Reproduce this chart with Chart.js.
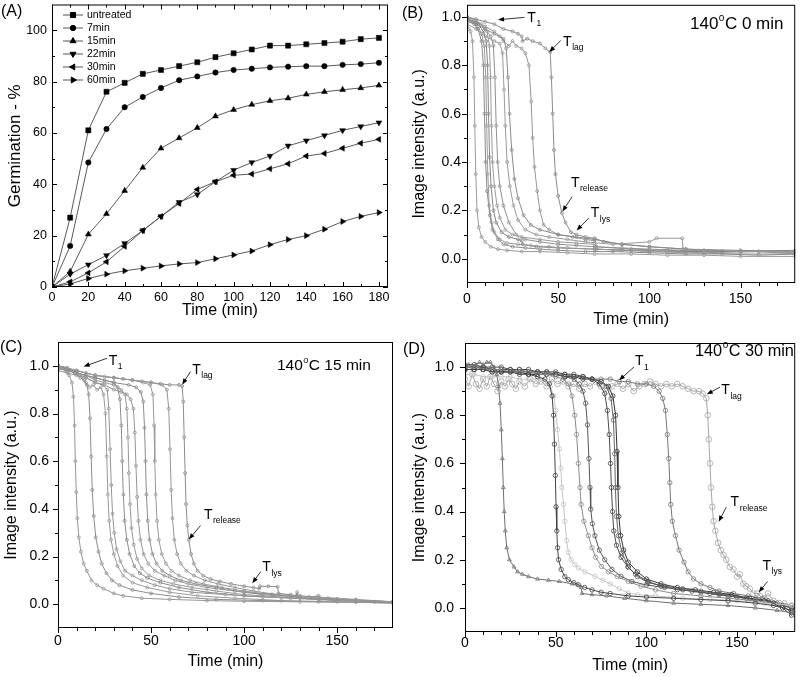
<!DOCTYPE html>
<html>
<head>
<meta charset="utf-8">
<script src="https://cdn.jsdelivr.net/npm/chart.js@4.4.0/dist/chart.umd.min.js"></script>
<style>
  html, body { margin: 0; padding: 0; background: #fff; }
  #wrap { position: relative; width: 800px; height: 677px; overflow: hidden; }
  canvas { position: absolute; }
</style>
</head>
<body>
<div id="wrap">
  <canvas id="chartA" width="400" height="330" style="left:0;top:0"></canvas>
  <canvas id="chartB" width="400" height="330" style="left:400px;top:0"></canvas>
  <canvas id="chartC" width="400" height="347" style="left:0;top:330px"></canvas>
  <canvas id="chartD" width="400" height="347" style="left:400px;top:330px"></canvas>
</div>
<script>
const FONT = '"Liberation Sans", Arial, Helvetica, sans-serif';

// ---- panel A: germination (%) vs time (min)
const timeA = [0, 10, 20, 30, 40, 50, 60, 70, 80, 90, 100, 110, 120, 130, 140, 150, 160, 170, 180];
const untreatedA = [0, 27, 61, 76, 79.5, 83, 84.5, 86, 87.5, 89.5, 91, 92.5, 94, 94, 94.5, 95, 95.5, 96.5, 97];
const min7A = [0, 16, 48.5, 61.5, 70, 74, 77.5, 80.5, 82, 83.5, 84.5, 85, 85.5, 85.8, 86, 86, 86.5, 86.8, 87.3];
const min15A = [0, 6, 20.5, 28.5, 37.5, 46.5, 54, 58, 62, 66.5, 69, 71, 72.5, 73.5, 75, 76, 76.8, 77.5, 78.5];
const min22A = [0, 5, 8.7, 12.3, 17, 22, 27.5, 33, 36, 41, 45.5, 48.5, 51, 55, 57, 59, 61, 62.5, 64];
const min30A = [0, 2, 5.5, 9.8, 15.8, 22, 27.5, 32.5, 38, 41, 43.5, 44, 46, 48, 51, 52, 54, 56, 57.5];
const min60A = [0, 1.2, 3.3, 5, 6.3, 7.3, 8.2, 9, 9.5, 11, 12.5, 14, 16.5, 18.5, 20, 22.5, 25.5, 27.5, 29];
const seriesA = [untreatedA, min7A, min15A, min22A, min30A, min60A];
const namesA = ['untreated', '7min', '15min', '22min', '30min', '60min'];
const xMajorA = [0, 20, 40, 60, 80, 100, 120, 140, 160, 180];
const xMinorA = [10, 30, 50, 70, 90, 110, 130, 150, 170];
const yMajorA = [0, 20, 40, 60, 80, 100];
const yMinorA = [10, 30, 50, 70, 90];

// ---- panels B-D: image intensity traces, [time (min), intensity]
const curvesB = [
  [[0,0.96],[1,0.95],[2,0.94],[3,0.9],[3.8,0.75],[4.3,0.55],[4.8,0.35],[5.5,0.2],[6.5,0.13],[8,0.09],[10,0.07],[13,0.05],[17,0.04],[22,0.035],[30,0.03],[40,0.03],[55,0.025],[70,0.02],[90,0.02],[110,0.015],[130,0.015],[150,0.01],[180,0.01]],
  [[0,1.0],[2,0.99],[4,0.97],[6,0.95],[8,0.9],[9,0.8],[9.6,0.6],[10.2,0.4],[11,0.28],[12.5,0.18],[14,0.12],[17,0.08],[20,0.06],[25,0.05],[32,0.045],[40,0.04],[50,0.035],[65,0.03],[80,0.03],[100,0.025],[120,0.02],[140,0.02],[160,0.015],[180,0.02]],
  [[0,0.98],[3,0.98],[6,0.96],[8,0.93],[9.5,0.88],[10.3,0.75],[10.8,0.55],[11.4,0.35],[12.2,0.22],[13.5,0.15],[15,0.11],[18,0.08],[22,0.065],[28,0.06],[35,0.055],[45,0.05],[55,0.045],[70,0.04],[90,0.035],[110,0.03],[130,0.025],[160,0.03],[180,0.025]],
  [[0,0.99],[3,0.98],[6,0.97],[9,0.94],[10.5,0.9],[11.3,0.8],[11.8,0.6],[12.4,0.42],[13.2,0.3],[14.5,0.2],[16,0.15],[19,0.11],[23,0.09],[28,0.08],[30,0.075],[30.5,0.06],[38,0.05],[50,0.045],[70,0.04],[90,0.035],[118,0.03],[140,0.03],[180,0.035]],
  [[0,1.0],[4,0.99],[8,0.97],[11,0.94],[12.3,0.88],[12.9,0.75],[13.4,0.55],[14,0.4],[15,0.3],[16.5,0.22],[18,0.17],[21,0.12],[25,0.1],[30,0.09],[40,0.08],[50,0.07],[60,0.065],[70,0.06],[71,0.04],[85,0.035],[100,0.03],[120,0.025],[150,0.02],[180,0.02]],
  [[0,0.99],[5,0.98],[10,0.95],[13,0.92],[14.5,0.88],[15.3,0.75],[16,0.55],[16.8,0.4],[18,0.3],[20,0.22],[23,0.15],[27,0.1],[32,0.08],[40,0.07],[50,0.06],[60,0.055],[70,0.05],[90,0.04],[110,0.035],[130,0.03],[160,0.03],[180,0.02]],
  [[0,0.97],[5,0.95],[10,0.92],[15,0.9],[18,0.89],[19.5,0.85],[20.3,0.7],[21,0.55],[22,0.4],[23.5,0.3],[25.5,0.22],[28,0.16],[32,0.12],[38,0.1],[45,0.09],[55,0.08],[65,0.07],[80,0.06],[100,0.07],[104,0.085],[118,0.085],[118.5,0.04],[130,0.035],[150,0.03],[180,0.03]],
  [[0,0.98],[5,0.97],[10,0.95],[15,0.93],[20,0.91],[21.5,0.87],[22.5,0.75],[23.3,0.6],[24.5,0.45],[26,0.33],[28,0.25],[31,0.18],[35,0.14],[40,0.12],[50,0.1],[60,0.09],[70,0.08],[85,0.06],[100,0.05],[120,0.04],[150,0.035],[180,0.03]],
  [[0,0.99],[5,0.98],[10,0.96],[15,0.94],[18,0.92],[20,0.9],[23,0.88],[25,0.9],[27,0.88],[30,0.87],[32,0.85],[34,0.8],[35.2,0.65],[36,0.5],[37,0.38],[38.5,0.28],[40,0.2],[42,0.14],[45,0.12],[50,0.1],[58,0.09],[65,0.08],[70,0.075],[71,0.05],[85,0.045],[100,0.04],[120,0.035],[150,0.03],[180,0.03]],
  [[0,1.0],[5,0.99],[10,0.98],[15,0.97],[20,0.95],[25,0.94],[28,0.93],[30,0.92],[30.5,0.9],[33,0.91],[36,0.9],[40,0.89],[43,0.87],[45.6,0.855],[46.3,0.75],[47,0.6],[47.7,0.45],[48.5,0.35],[50,0.26],[52,0.19],[54,0.15],[57,0.11],[60,0.1],[65,0.09],[70,0.085],[75,0.07],[85,0.06],[100,0.05],[120,0.04],[150,0.03],[180,0.03]]
];

const curvesC = [
  [[0,0.99],[2,0.99],[4,0.98],[6,0.96],[7.5,0.93],[8.3,0.87],[8.9,0.75],[9.3,0.6],[9.8,0.47],[10.4,0.36],[11.2,0.28],[12.3,0.22],[13.8,0.17],[15.5,0.14],[18,0.1],[21,0.08],[24.4,0.065],[30,0.045],[35,0.035],[45,0.025],[60,0.02],[80,0.015],[100,0.012],[130,0.01],[160,0.008],[180,0.005]],
  [[0,1.0],[3,0.99],[6,0.98],[9,0.97],[12,0.95],[14,0.94],[15.5,0.92],[16.5,0.88],[17.2,0.78],[17.8,0.62],[18.4,0.48],[19.2,0.37],[20.3,0.28],[21.8,0.22],[23.5,0.17],[26,0.13],[29,0.1],[33,0.08],[40,0.06],[50,0.045],[65,0.03],[85,0.02],[110,0.015],[140,0.01],[180,0.005]],
  [[0,1.0],[4,0.99],[8,0.98],[12,0.96],[15,0.93],[17,0.91],[19,0.92],[21,0.9],[23,0.91],[24.5,0.88],[25.5,0.8],[26.2,0.62],[26.8,0.46],[27.5,0.35],[28.5,0.27],[30,0.21],[32,0.16],[35,0.12],[40,0.09],[48,0.07],[60,0.05],[75,0.035],[95,0.025],[120,0.015],[150,0.01],[180,0.005]],
  [[0,1.0],[5,0.99],[10,0.97],[15,0.95],[20,0.93],[24,0.92],[26.5,0.9],[27.3,0.82],[28,0.65],[28.6,0.5],[29.3,0.38],[30.2,0.3],[31.5,0.23],[33.5,0.18],[36,0.14],[40,0.12],[45,0.1],[52,0.08],[60,0.065],[72,0.05],[90,0.04],[110,0.03],[130,0.025],[155,0.015],[180,0.01]],
  [[0,0.99],[5,0.98],[10,0.97],[15,0.96],[20,0.95],[25,0.94],[30,0.93],[32,0.91],[33.3,0.86],[34,0.75],[34.5,0.6],[35.1,0.46],[35.8,0.35],[37,0.27],[38.5,0.21],[41,0.16],[44,0.13],[48,0.11],[55,0.09],[65,0.07],[80,0.05],[100,0.035],[125,0.025],[150,0.015],[180,0.01]],
  [[0,1.0],[5,0.99],[10,0.97],[15,0.96],[20,0.94],[25,0.93],[30,0.92],[34,0.9],[36,0.88],[37,0.82],[37.6,0.7],[38.1,0.55],[38.7,0.42],[39.5,0.32],[40.7,0.25],[42.5,0.19],[45,0.15],[49,0.12],[55,0.1],[62,0.085],[72,0.07],[85,0.055],[100,0.04],[120,0.03],[140,0.02],[160,0.015],[180,0.01]],
  [[0,0.98],[5,0.97],[10,0.96],[15,0.95],[20,0.93],[25,0.92],[30,0.9],[34,0.89],[37,0.88],[39,0.86],[40.5,0.82],[41.3,0.72],[41.9,0.58],[42.5,0.45],[43.2,0.35],[44.3,0.27],[46,0.21],[48.5,0.17],[52,0.14],[57,0.12],[63,0.1],[70,0.085],[80,0.07],[95,0.055],[110,0.04],[130,0.03],[150,0.02],[180,0.01]],
  [[0,0.99],[10,0.97],[20,0.95],[30,0.93],[38,0.92],[42,0.91],[44.5,0.89],[45.8,0.85],[46.5,0.74],[47,0.6],[47.5,0.46],[48.2,0.35],[49.2,0.27],[50.8,0.21],[53,0.17],[56,0.14],[60,0.12],[66,0.1],[74,0.085],[85,0.07],[100,0.05],[115,0.04],[130,0.03],[150,0.02],[180,0.01]],
  [[0,1.0],[10,0.98],[20,0.96],[30,0.95],[40,0.94],[46,0.93],[49.5,0.92],[51,0.88],[51.6,0.75],[52,0.6],[52.5,0.46],[53.2,0.35],[54.2,0.27],[55.8,0.21],[58,0.17],[61,0.14],[65,0.12],[71,0.1],[78,0.085],[88,0.07],[100,0.055],[115,0.04],[130,0.03],[145,0.025],[160,0.015],[180,0.01]],
  [[0,1.0],[10,0.98],[20,0.96],[30,0.95],[40,0.94],[50,0.93],[56,0.92],[58.5,0.9],[59.5,0.82],[60.2,0.65],[60.8,0.48],[61.5,0.36],[62.5,0.27],[64,0.21],[66,0.17],[69,0.14],[73,0.12],[79,0.1],[86,0.085],[95,0.07],[105,0.055],[118,0.04],[130,0.035],[140,0.03],[160,0.02],[180,0.01]],
  [[0,1.0],[5,0.99],[10,0.98],[15,0.97],[20,0.96],[25,0.955],[30,0.95],[35,0.945],[40,0.94],[45,0.935],[50,0.93],[55,0.925],[60,0.92],[65,0.92],[66.7,0.915],[67.3,0.85],[67.8,0.7],[68.3,0.55],[68.8,0.42],[69.5,0.33],[70.3,0.27],[71.5,0.21],[73,0.17],[75,0.14],[78,0.12],[82,0.105],[87,0.095],[93,0.085],[100,0.075],[105,0.07],[108,0.065],[108.5,0.075],[113,0.075],[118,0.073],[118.5,0.045],[125,0.04],[128,0.035],[128.5,0.05],[129,0.03],[135,0.03],[140,0.035],[141,0.02],[150,0.02],[160,0.015],[170,0.01],[180,0.008]]
];

const curvesD = [
  [[0,1.0],[2,1.01],[4,1.0],[6,1.01],[8,1.02],[10,1.01],[12,1.02],[14,1.02],[16,1.0],[17.5,0.97],[18.5,0.92],[19.3,0.85],[20,0.74],[20.6,0.62],[21.1,0.5],[21.6,0.4],[22.2,0.32],[23,0.25],[24.5,0.2],[27,0.17],[29,0.15],[31.6,0.14],[35,0.13],[40,0.12],[46,0.115],[52,0.11],[59,0.1],[62,0.095],[64,0.085],[64.5,0.06],[70,0.055],[78,0.05],[88,0.04],[100,0.03],[115,0.02],[130,0.015],[145,0.01],[160,0.0],[172,-0.01],[180,-0.02]],
  [[0,0.99],[5,0.99],[10,0.99],[15,0.98],[20,0.98],[25,0.98],[30,0.97],[35,0.97],[40,0.96],[44,0.95],[46.5,0.93],[48,0.88],[48.8,0.8],[49.3,0.68],[49.8,0.55],[50.2,0.42],[50.6,0.32],[51,0.25],[51.6,0.2],[53,0.16],[55,0.13],[57,0.117],[60,0.105],[62.5,0.096],[66,0.085],[70,0.075],[75,0.065],[80,0.06],[90,0.05],[100,0.045],[115,0.04],[130,0.035],[145,0.03],[160,0.02],[170,0.01],[180,-0.01]],
  [[0,0.97],[5,0.97],[10,0.96],[15,0.96],[20,0.96],[25,0.96],[30,0.95],[35,0.95],[40,0.95],[44,0.94],[47,0.92],[48.9,0.88],[50,0.82],[51,0.74],[52,0.66],[52.8,0.58],[53.4,0.5],[54.3,0.43],[55,0.36],[56,0.28],[57,0.23],[58.5,0.2],[60.5,0.18],[62.5,0.166],[66,0.15],[71.6,0.131],[76,0.115],[80,0.1],[85,0.08],[89.8,0.062],[95,0.055],[105,0.05],[120,0.04],[135,0.035],[150,0.03],[165,0.02],[180,0.01]],
  [[0,1.0],[5,1.0],[10,0.99],[15,0.99],[20,0.99],[25,0.98],[30,0.98],[35,0.98],[40,0.97],[45,0.97],[50,0.96],[54,0.95],[57,0.93],[59,0.88],[60.5,0.8],[61.5,0.72],[62.5,0.6],[63.4,0.5],[64,0.43],[65.5,0.36],[68,0.3],[70,0.25],[72,0.21],[75.3,0.172],[79,0.15],[84,0.13],[90,0.11],[97,0.09],[105,0.075],[115,0.06],[130,0.05],[145,0.04],[160,0.03],[180,0.01]],
  [[0,1.0],[5,1.0],[10,1.0],[15,0.99],[20,0.99],[25,0.99],[30,0.98],[35,0.98],[40,0.98],[45,0.97],[50,0.97],[55,0.96],[60.2,0.95],[63,0.93],[65,0.9],[66.5,0.85],[67.5,0.76],[68.3,0.62],[68.9,0.5],[69.3,0.41],[70.2,0.35],[71.6,0.3],[74,0.24],[77,0.2],[81,0.16],[86,0.131],[92,0.11],[100,0.095],[110,0.085],[120,0.075],[130,0.065],[140,0.055],[150,0.045],[160,0.035],[170,0.02],[180,0.0]],
  [[0,1.01],[5,1.01],[10,1.0],[15,1.0],[20,1.0],[25,0.99],[30,0.99],[35,0.99],[40,0.98],[45,0.98],[50,0.98],[55,0.97],[60,0.97],[65,0.96],[70,0.95],[74,0.93],[77,0.89],[78.5,0.82],[79.5,0.72],[80.2,0.6],[80.7,0.5],[81.3,0.4],[82,0.32],[83.5,0.26],[86,0.21],[89.8,0.17],[94,0.14],[100.7,0.11],[108,0.09],[117,0.076],[125,0.07],[135,0.06],[145,0.05],[155,0.04],[165,0.03],[175,0.01],[180,-0.02]],
  [[0,1.0],[5,1.0],[10,1.0],[15,0.99],[20,0.99],[25,0.99],[30,0.99],[35,0.98],[40,0.98],[45,0.98],[50,0.97],[55,0.97],[60,0.96],[65,0.96],[70,0.95],[75,0.94],[78,0.92],[80.5,0.87],[81.8,0.78],[82.5,0.64],[82.9,0.5],[83.5,0.38],[84.5,0.3],[86.5,0.23],[90,0.17],[95,0.13],[101,0.105],[110,0.09],[120,0.08],[130,0.07],[140,0.06],[150,0.045],[160,0.035],[170,0.02],[180,0.0]],
  [[0,0.99],[5,0.99],[10,0.99],[15,0.99],[20,0.98],[25,0.98],[30,0.98],[35,0.97],[40,0.97],[45,0.97],[50,0.97],[55,0.96],[60,0.96],[65,0.95],[70,0.95],[75,0.94],[79,0.92],[81.5,0.88],[83,0.8],[83.8,0.65],[84.3,0.5],[84.8,0.38],[85.8,0.3],[87.5,0.24],[90,0.19],[95,0.15],[100,0.12],[108,0.1],[117,0.085],[127,0.075],[137,0.065],[147,0.055],[157,0.04],[167,0.03],[175,0.0],[180,-0.03]],
  [[0,0.99],[5,0.99],[10,0.99],[15,0.98],[20,0.98],[25,0.98],[30,0.98],[35,0.97],[40,0.97],[45,0.97],[50,0.97],[55,0.96],[60,0.96],[65,0.96],[70,0.95],[75,0.95],[80,0.95],[85,0.94],[90,0.94],[95,0.93],[100,0.93],[104,0.92],[107,0.9],[109,0.87],[110.5,0.82],[111.5,0.72],[112.3,0.62],[112.9,0.52],[113.4,0.43],[114.3,0.36],[116,0.3],[118,0.24],[120.7,0.19],[123,0.15],[126,0.12],[130,0.1],[135,0.085],[140,0.07],[148,0.06],[156,0.05],[164,0.04],[172,0.02],[180,0.0]],
  [[0,0.95],[2,0.92],[4,0.97],[6,0.93],[8,0.91],[10,0.95],[12,0.92],[14,0.96],[16,0.93],[18,0.9],[20,0.94],[22,0.92],[24,0.95],[26,0.93],[28,0.91],[30,0.94],[33,0.92],[36,0.95],[39,0.93],[42,0.94],[45,0.92],[48,0.95],[51,0.93],[54,0.94],[57,0.92],[60,0.93],[63,0.91],[66,0.93],[69,0.92],[72,0.94],[75,0.92],[78,0.9],[81,0.92],[84,0.93],[87,0.91],[90,0.93],[93,0.9],[96,0.92],[99,0.93],[102,0.94],[105,0.93],[108,0.92],[111,0.93],[114,0.92],[117,0.93],[120,0.92],[123,0.91],[126,0.9],[129,0.9],[131,0.89],[133,0.87],[133.8,0.8],[134.4,0.7],[135,0.6],[135.6,0.5],[136.3,0.42],[137,0.36],[138,0.32],[139.5,0.27],[141,0.24],[142.5,0.22],[144,0.2],[146,0.17],[148,0.16],[150,0.13],[151.5,0.14],[153.4,0.1],[155,0.09],[157,0.08],[159,0.06],[161,0.06],[162.5,0.05],[165,0.04],[167,0.06],[170,0.03],[173,0.02],[176,0.02],[180,0.01]]
];

const xMajorT = [0, 50, 100, 150];
const xMinorT = [10, 20, 30, 40, 60, 70, 80, 90, 110, 120, 130, 140, 160, 170];
const yMajorI = [0, 0.2, 0.4, 0.6, 0.8, 1.0];
const yMinorI = [0.1, 0.3, 0.5, 0.7, 0.9];

// ---- styles (kept apart from the values)
const stylesA = [
  { pointStyle: 'rect', r: 3.6, rot: 0 },
  { pointStyle: 'circle', r: 2.7, rot: 0 },
  { pointStyle: 'triangle', r: 3.4, rot: 0 },
  { pointStyle: 'triangle', r: 3.4, rot: 180 },
  { pointStyle: 'triangle', r: 3.4, rot: -90 },
  { pointStyle: 'triangle', r: 3.4, rot: 90 }
];
const greysB = ['#9a9a9a', '#8a8a8a', '#9a9a9a', '#858585', '#9a9a9a', '#909090', '#999999', '#8a8a8a', '#959595', '#8c8c8c'];
const greysD = ['#707070', '#454545', '#c4c4c4', '#8a8a8a', '#555555', '#4a4a4a', '#666666', '#333333', '#777777', '#a5a5a5'];

// frame box with inward / outward tick marks
const framePlugin = {
  id: 'frame',
  afterDatasetsDraw(chart, args, o) {
    const { ctx, chartArea: a } = chart;
    const sx = chart.scales.x, sy = chart.scales.y;
    const dir = o.inward ? -1 : 1;
    ctx.save();
    ctx.strokeStyle = '#000';
    ctx.lineWidth = 1;
    ctx.strokeRect(a.left + 0.5, a.top + 0.5, a.right - a.left - 1, a.bottom - a.top - 1);
    ctx.beginPath();
    const tx = (v, len) => {
      const px = Math.round(sx.getPixelForValue(v)) + 0.5;
      ctx.moveTo(px, a.bottom); ctx.lineTo(px, a.bottom + dir * len);
      if (o.inward) { ctx.moveTo(px, a.top); ctx.lineTo(px, a.top + len); }
    };
    const ty = (v, len) => {
      const py = Math.round(sy.getPixelForValue(v)) + 0.5;
      ctx.moveTo(a.left, py); ctx.lineTo(a.left - dir * len, py);
      if (o.inward) { ctx.moveTo(a.right, py); ctx.lineTo(a.right - len, py); }
    };
    o.xMajor.forEach(v => tx(v, 5));
    o.xMinor.forEach(v => tx(v, 3));
    o.yMajor.forEach(v => ty(v, 5));
    o.yMinor.forEach(v => ty(v, 3));
    ctx.stroke();
    ctx.restore();
  }
};

function arrow(ctx, x0, y0, x1, y1) {
  const ang = Math.atan2(y1 - y0, x1 - x0);
  const c = Math.cos(ang), s = Math.sin(ang);
  ctx.lineWidth = 0.8;
  ctx.beginPath();
  ctx.moveTo(x0, y0);
  ctx.lineTo(x1 - 4 * c, y1 - 4 * s);
  ctx.stroke();
  ctx.beginPath();
  ctx.moveTo(x1, y1);
  ctx.lineTo(x1 - 6 * c + 2.3 * s, y1 - 6 * s - 2.3 * c);
  ctx.lineTo(x1 - 6 * c - 2.3 * s, y1 - 6 * s + 2.3 * c);
  ctx.closePath();
  ctx.fill();
}

// panel letter, legend, temperature label and T markers
const notesPlugin = {
  id: 'notes',
  afterDraw(chart, args, o) {
    const ctx = chart.ctx, sx = chart.scales.x, sy = chart.scales.y;
    ctx.save();
    ctx.fillStyle = '#000';
    ctx.strokeStyle = '#000';
    ctx.textBaseline = 'alphabetic';
    ctx.font = '16px ' + FONT;
    ctx.fillText(o.letter, o.letterAt[0], o.letterAt[1]);

    if (o.legend) {
      const dp = Chart.helpers && Chart.helpers.drawPoint;
      chart.data.datasets.forEach((ds, i) => {
        const yy = o.legend.y0 + i * o.legend.dy;
        ctx.strokeStyle = '#555';
        ctx.lineWidth = 1;
        ctx.beginPath();
        ctx.moveTo(o.legend.x0, yy); ctx.lineTo(o.legend.x0 + 20, yy);
        ctx.stroke();
        ctx.fillStyle = '#000'; ctx.strokeStyle = '#000';
        if (dp) {
          dp(ctx, { pointStyle: ds.pointStyle, radius: ds.pointRadius, rotation: ds.pointRotation, borderWidth: 1 }, o.legend.x0 + 10, yy);
        } else {
          ctx.beginPath(); ctx.arc(o.legend.x0 + 10, yy, 3, 0, Math.PI * 2); ctx.fill();
        }
        ctx.font = '10.5px ' + FONT;
        ctx.textBaseline = 'middle';
        ctx.fillText(ds.label, o.legend.x0 + 24, yy + 0.5);
        ctx.textBaseline = 'alphabetic';
      });
    }

    if (o.temp) {
      const fs = o.temp.size;
      let x = o.temp.x;
      ctx.font = fs + 'px ' + FONT;
      ctx.fillText('140', x, o.temp.y);
      x += ctx.measureText('140').width + 0.5;
      ctx.font = Math.round(fs * 0.6) + 'px ' + FONT;
      ctx.fillText('o', x, o.temp.y - fs * 0.48);
      x += ctx.measureText('o').width + 0.5;
      ctx.font = fs + 'px ' + FONT;
      ctx.fillText('C ' + o.temp.text, x, o.temp.y);
    }

    (o.marks || []).forEach(m => {
      const px = sx.getPixelForValue(m.at[0]), py = sy.getPixelForValue(m.at[1]);
      ctx.font = '14px ' + FONT;
      ctx.fillText('T', px, py);
      const w = ctx.measureText('T').width;
      ctx.font = '8.5px ' + FONT;
      ctx.fillText(m.sub, px + w + 0.5, py + 4.5);
      arrow(ctx, sx.getPixelForValue(m.from[0]), sy.getPixelForValue(m.from[1]),
        sx.getPixelForValue(m.to[0]), sy.getPixelForValue(m.to[1]));
    });
    ctx.restore();
  }
};

function makePanel(id, p) {
  const noPad = s => { s.paddingTop = 0; s.paddingBottom = 0; s.paddingLeft = 0; s.paddingRight = 0; };
  return new Chart(document.getElementById(id).getContext('2d'), {
    type: 'line',
    data: { datasets: p.datasets },
    options: {
      responsive: false,
      animation: false,
      devicePixelRatio: 1,
      layout: { padding: { left: 0, top: p.top, right: p.right, bottom: 0 } },
      plugins: {
        legend: { display: false },
        tooltip: { enabled: false },
        frame: p.frame,
        notes: p.notes
      },
      scales: {
        x: {
          type: 'linear', min: p.xMin, max: p.xMax,
          grid: { display: false, drawTicks: false }, border: { display: false },
          ticks: { color: '#000', font: { size: p.tickSize, family: FONT }, padding: p.xPad, maxRotation: 0, autoSkip: false },
          afterBuildTicks: s => { s.ticks = p.frame.xMajor.map(v => ({ value: v })); },
          afterFit: s => { s.height = p.xH; noPad(s); },
          title: { display: true, text: 'Time (min)', color: '#000', font: { size: 16, family: FONT }, padding: { top: 0, bottom: p.xTitlePad } }
        },
        y: {
          type: 'linear', min: p.yMin, max: p.yMax,
          grid: { display: false, drawTicks: false }, border: { display: false },
          ticks: { color: '#000', font: { size: p.tickSize, family: FONT }, padding: p.yPad, autoSkip: false, callback: p.yFmt },
          afterBuildTicks: s => { s.ticks = p.frame.yMajor.map(v => ({ value: v })); },
          afterFit: s => { s.width = p.yW; noPad(s); },
          title: { display: true, text: p.yTitle, color: '#000', font: { size: p.yTitleSize, family: FONT }, padding: { top: p.yTitlePad, bottom: 0 } }
        }
      }
    },
    plugins: [framePlugin, notesPlugin]
  });
}

function traceSets(curves, colours, radius, style) {
  return curves.map((c, i) => ({
    data: c.map(pt => ({ x: pt[0], y: pt[1] })),
    borderColor: colours[i % colours.length],
    borderWidth: 1,
    pointStyle: style ? style(i) : 'circle',
    pointRadius: radius(i),
    pointBorderWidth: 0.8,
    pointBorderColor: colours[i % colours.length],
    pointBackgroundColor: 'rgba(255,255,255,0)',
    tension: 0,
    fill: false
  }));
}

// (A)
makePanel('chartA', {
  datasets: seriesA.map((vals, i) => ({
    label: namesA[i],
    data: timeA.map((t, k) => ({ x: t, y: vals[k] })),
    borderColor: '#5a5a5a',
    borderWidth: 1,
    pointStyle: stylesA[i].pointStyle,
    pointRadius: stylesA[i].r,
    pointRotation: stylesA[i].rot,
    pointBackgroundColor: '#000',
    pointBorderColor: '#000',
    pointBorderWidth: 0.5,
    tension: 0,
    fill: false
  })),
  xMin: 0, xMax: 185, yMin: 0, yMax: 110,
  top: 2, right: 12, xH: 43, yW: 52,
  tickSize: 12.5, xPad: 3, yPad: 5, xTitlePad: 10, yTitlePad: 5,
  yTitle: 'Germination - %', yTitleSize: 17,
  yFmt: v => v,
  frame: { inward: true, xMajor: xMajorA, xMinor: xMinorA, yMajor: yMajorA, yMinor: yMinorA },
  notes: { letter: '(A)', letterAt: [1, 16], legend: { x0: 63, y0: 15, dy: 13 } }
});

// (B)
makePanel('chartB', {
  datasets: traceSets(curvesB, greysB, () => 1.5),
  xMin: 0, xMax: 180, yMin: -0.1, yMax: 1.05,
  top: 1, right: 2, xH: 47, yW: 67,
  tickSize: 14, xPad: 8, yPad: 6, xTitlePad: 1, yTitlePad: 10,
  yTitle: 'Image intensity (a.u.)', yTitleSize: 16,
  yFmt: v => v.toFixed(1),
  frame: { inward: false, xMajor: xMajorT, xMinor: xMinorT, yMajor: yMajorI, yMinor: yMinorI },
  notes: {
    letter: '(B)', letterAt: [2, 18],
    temp: { x: 290, y: 29, size: 17, text: '0 min' },
    marks: [
      { sub: '1', at: [33.1, 0.98], from: [31.5, 0.998], to: [17.0, 0.988] },
      { sub: 'lag', at: [52.7, 0.88], from: [51.4, 0.902], to: [45.1, 0.855] },
      { sub: 'release', at: [57, 0.298], from: [57.7, 0.257], to: [52.3, 0.196] },
      { sub: 'lys', at: [67.9, 0.171], from: [66.8, 0.168], to: [60.1, 0.117] }
    ]
  }
});

// (C)
makePanel('chartC', {
  datasets: traceSets(curvesC, ['#959595', '#8c8c8c', '#999999'], () => 1.5),
  xMin: 0, xMax: 180, yMin: -0.1, yMax: 1.1,
  top: 12, right: 7, xH: 49, yW: 58,
  tickSize: 14, xPad: 5, yPad: 9, xTitlePad: 6, yTitlePad: 2,
  yTitle: 'Image intensity (a.u.)', yTitleSize: 16,
  yFmt: v => v.toFixed(1),
  frame: { inward: false, xMajor: xMajorT, xMinor: xMinorT, yMajor: yMajorI, yMinor: yMinorI },
  notes: {
    letter: '(C)', letterAt: [0, 22],
    temp: { x: 277, y: 40, size: 15.5, text: '15 min' },
    marks: [
      { sub: '1', at: [27.3, 1.004], from: [26.4, 1.032], to: [13.8, 0.997] },
      { sub: 'lag', at: [72.1, 0.967], from: [71.2, 0.976], to: [66.7, 0.921] },
      { sub: 'release', at: [78.4, 0.358], from: [76.6, 0.33], to: [70.3, 0.272] },
      { sub: 'lys', at: [109.8, 0.1375], from: [108.9, 0.136], to: [104.4, 0.0875] }
    ]
  }
});

// (D)
makePanel('chartD', {
  datasets: traceSets(curvesD, greysD, i => (i === 9 ? 2.8 : 2.2), i => (i === 0 ? 'triangle' : 'circle')),
  xMin: 0, xMax: 182, yMin: -0.1, yMax: 1.1,
  top: 13, right: 2, xH: 45, yW: 65,
  tickSize: 14, xPad: 3, yPad: 11, xTitlePad: 2, yTitlePad: 10,
  yTitle: 'Image intensity (a.u.)', yTitleSize: 16,
  yFmt: v => v.toFixed(1),
  frame: { inward: false, xMajor: xMajorT, xMinor: xMinorT, yMajor: yMajorI, yMinor: yMinorI },
  notes: {
    letter: '(D)', letterAt: [3, 24],
    temp: { x: 295, y: 26, size: 16.3, text: '30 min' },
    marks: [
      { sub: '1', at: [93.7, 1.007], from: [93.1, 1.0], to: [84.9, 0.945] },
      { sub: 'lag', at: [141.3, 0.887], from: [140.6, 0.917], to: [133.3, 0.887] },
      { sub: 'release', at: [146.4, 0.423], from: [144, 0.418], to: [139.8, 0.358] },
      { sub: 'lys', at: [164, 0.158], from: [166.8, 0.11], to: [161.9, 0.065] }
    ]
  }
});
</script>
</body>
</html>
